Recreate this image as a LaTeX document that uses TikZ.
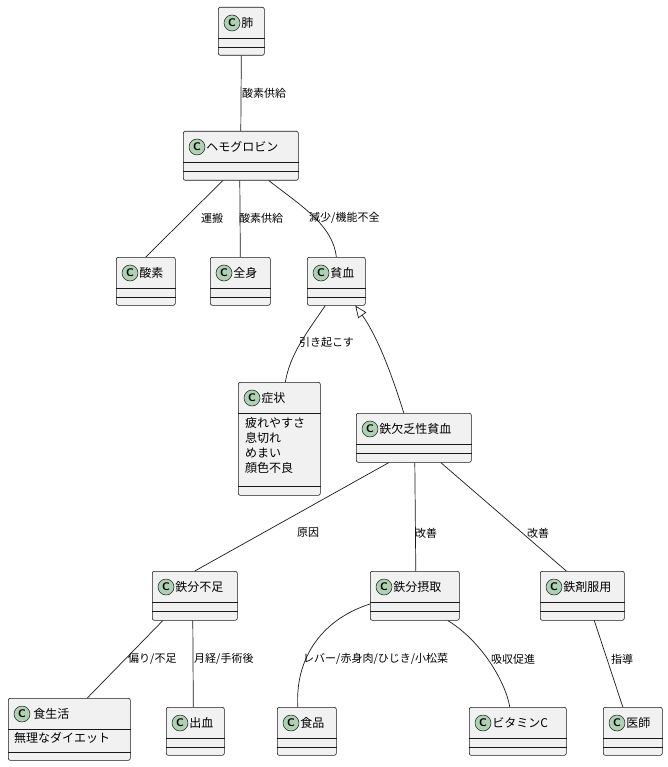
\documentclass[tikz,border=0pt]{standalone}
\usepackage{fontspec}
\setmainfont{Noto Sans CJK JP}
\usetikzlibrary{calc,arrows.meta,positioning}
\definecolor{clsfill}{HTML}{F1F1F1}
\definecolor{clsline}{HTML}{181818}
\definecolor{spot}{HTML}{ADD1B2}

% class box: id, left, top, width, height, title, sep1, sep2
\newcommand{\umlclass}[8]{%
  \node[clsbox, minimum width=#4pt, minimum height=#5pt, anchor=north west] (#1) at (#2,#3) {};
  \node[spotc] (#1c) at ([xshift=14pt,yshift=-16pt]#1.north west) {C};
  \node[title, right=1pt of #1c] (#1t) {#6};
  \draw[clsline, line width=.5pt] ([yshift=-#7pt]#1.north west) -- ([yshift=-#7pt]#1.north east);
  \draw[clsline, line width=.5pt] ([yshift=-#8pt]#1.north west) -- ([yshift=-#8pt]#1.north east);
}

\begin{document}
\begin{tikzpicture}[x=1pt,y=-1pt,
  clsbox/.style={draw=clsline, fill=clsfill, line width=.6pt, rounded corners=2pt, inner sep=0pt},
  spotc/.style={circle, draw=clsline, fill=spot, line width=.5pt, minimum size=16pt, inner sep=0pt, font=\sffamily\bfseries\fontsize{11}{11}\selectfont},
  title/.style={inner sep=0pt, font=\fontsize{12}{14}\selectfont},
  attr/.style={inner sep=0pt, anchor=north west, align=left, font=\fontsize{12}{15}\selectfont},
  lbl/.style={inner sep=0pt, anchor=west, font=\fontsize{11}{13}\selectfont},
  assoc/.style={draw=clsline, line width=.7pt}]

\useasboundingbox (0,0) rectangle (667,767);

% classes
\umlclass{lung}{218}{7}{46}{48}{肺}{31}{40}
\umlclass{hemo}{183}{131}{115}{49}{ヘモグロビン}{31}{40}
\umlclass{oxy}{116}{257}{59}{48}{酸素}{31}{40}
\umlclass{body}{210}{257}{60}{48}{全身}{31}{40}
\umlclass{anemia}{307}{257}{58}{48}{貧血}{31}{40}
\umlclass{symp}{238}{382}{82}{113}{症状}{31}{104}
\node[attr] (sympa) at (245,417) {疲れやすさ\\息切れ\\めまい\\顔色不良};
\umlclass{ida}{356}{413}{115}{49}{鉄欠乏性貧血}{31}{40}
\umlclass{lack}{152}{571}{85}{49}{鉄分不足}{31}{40}
\umlclass{intake}{370}{571}{89}{49}{鉄分摂取}{31}{40}
\umlclass{pill}{540}{571}{84}{49}{鉄剤服用}{31}{40}
\umlclass{diet}{8}{698}{122}{62}{\,食生活}{31}{54}
\node[attr] (dieta) at (14,732) {無理なダイエット};
\umlclass{bleed}{166}{707}{58}{48}{出血}{31}{40}
\umlclass{food}{277}{707}{59}{48}{食品}{31}{40}
\umlclass{vitc}{469}{707}{97}{48}{ビタミンC}{31}{40}
\umlclass{doc}{603}{707}{59}{48}{医師}{31}{40}

% edges
\draw[assoc] (lung.south) -- (hemo.north);
\node[lbl] at (242,93) {酸素供給};
\draw[assoc] ([xshift=-18pt]hemo.south) -- (oxy.north);
\node[lbl] at (201,218) {運搬};
\draw[assoc] ([xshift=-1pt]hemo.south) -- (body.north);
\node[lbl] at (239,218) {酸素供給};
\draw[assoc] ([xshift=28pt]hemo.south) .. controls (300,205) and (333,225) .. (anemia.north);
\node[lbl] at (309,218) {減少/機能不全};
\draw[assoc] ([xshift=-11pt]anemia.south) .. controls (305,335) and (290,355) .. ([xshift=6pt]symp.north);
\node[lbl] at (299,342) {引き起こす};
\draw[assoc, -{Triangle[open, length=12pt, width=10pt]}] ([xshift=-10pt]ida.north) .. controls (395,385) and (380,340) .. ([xshift=19pt]anemia.south);
\node[lbl] at (297,533) {原因};
\draw[assoc] ([xshift=-25pt]ida.south) -- (lack.north);
\draw[assoc] ([xshift=1pt]ida.south) -- ([xshift=1pt]intake.north);
\node[lbl] at (415,533) {改善};
\draw[assoc] ([xshift=27pt]ida.south) -- ([xshift=-16pt]pill.north);
\node[lbl] at (527,533) {改善};
\draw[assoc] ([xshift=-32pt]lack.south) -- ([xshift=18pt]diet.north);
\node[lbl] at (128,659) {偏り/不足};
\draw[assoc] ([xshift=-2pt]lack.south) -- ([xshift=-2pt]bleed.north);
\node[lbl] at (194,659) {月経/手術後};
\draw[assoc] ([yshift=-33pt]intake.north west) .. controls (320,620) and (295,660) .. ([xshift=-9pt]food.north);
\node[lbl] at (303,659) {レバー/赤身肉/ひじき/小松菜};
\draw[assoc] ([xshift=33pt]intake.south) .. controls (480,640) and (505,680) .. ([xshift=-8pt]vitc.north);
\node[lbl] at (491,659) {吸収促進};
\draw[assoc] ([xshift=12pt]pill.south) -- ([xshift=-10pt]doc.north);
\node[lbl] at (611,659) {指導};
\end{tikzpicture}
\end{document}
